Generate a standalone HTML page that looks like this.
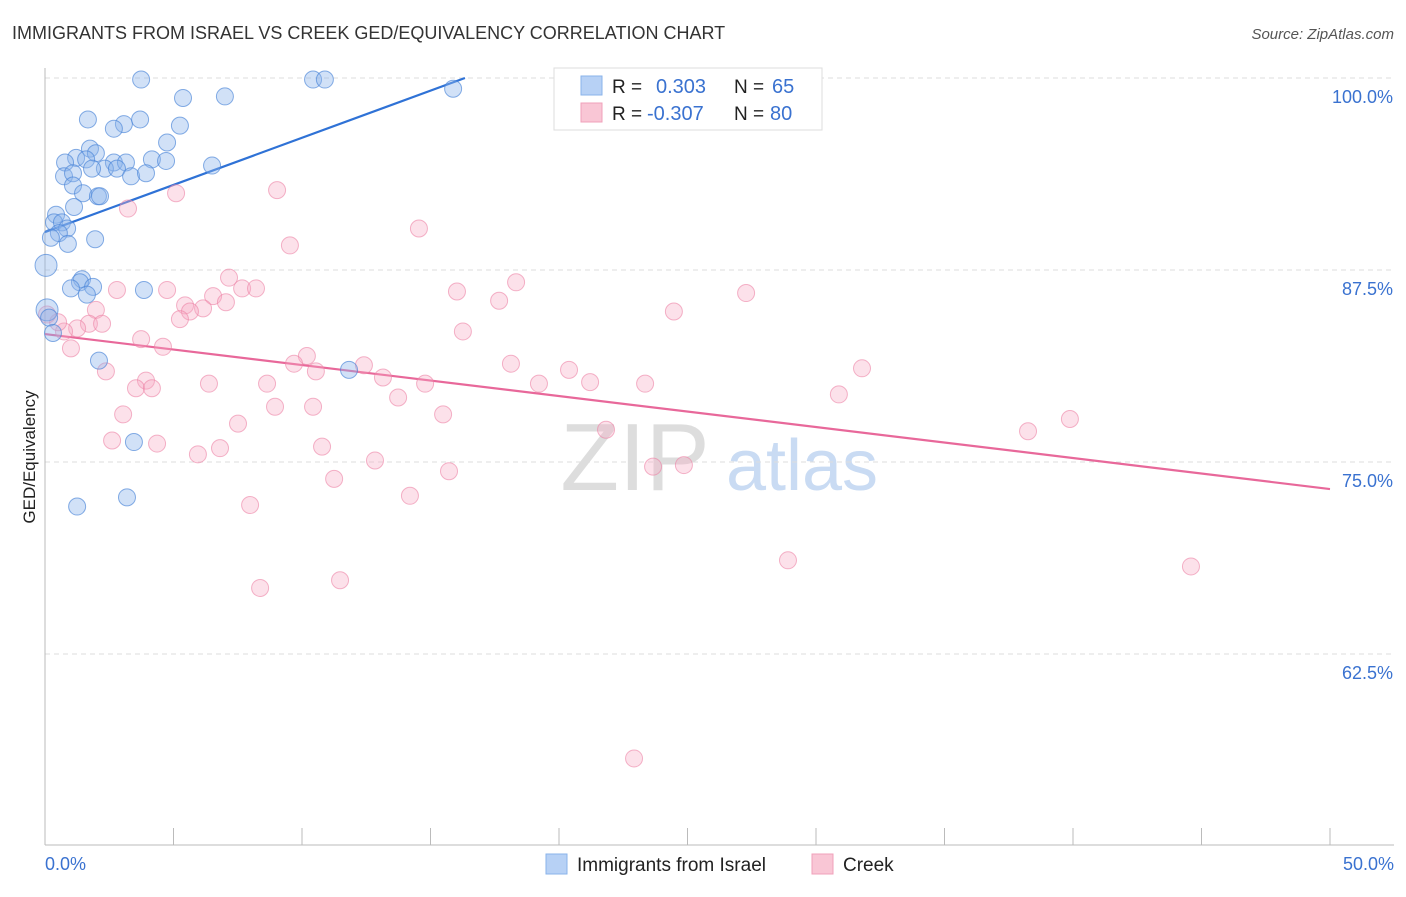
<!DOCTYPE html>
<html><head><meta charset="utf-8"><style>
body{margin:0;background:#fff;font-family:"Liberation Sans",sans-serif;}
svg text{font-family:"Liberation Sans",sans-serif;}
</style></head><body>
<svg id="chart" width="1406" height="892" xmlns="http://www.w3.org/2000/svg">
<text x="12" y="39" font-size="18" fill="#333">IMMIGRANTS FROM ISRAEL VS CREEK GED/EQUIVALENCY CORRELATION CHART</text>
<text x="1394" y="39" font-size="15" fill="#555" font-style="italic" text-anchor="end">Source: ZipAtlas.com</text>
<text x="35" y="457" font-size="17" fill="#222" transform="rotate(-90 35 457)" text-anchor="middle">GED/Equivalency</text>
<g><text x="635" y="490" font-size="96" fill="#ddd" font-family="Liberation Serif" text-anchor="middle">ZIP</text><text x="802" y="490" font-size="72" fill="#c9dbf3" text-anchor="middle">atlas</text></g>
<g id="grid"></g><g id="axes"></g><g id="lines"></g><g id="pts"></g>
<g>
<rect x="554" y="68" width="268" height="62" fill="#fff" stroke="#ddd"/>
<rect x="581" y="76" width="21" height="19" fill="#b7d1f5" stroke="#8ab3ea"/>
<rect x="581" y="103" width="21" height="19" fill="#f9c6d5" stroke="#f0a0ba"/>
<text x="612" y="93" font-size="19" fill="#222">R = </text><text x="656" y="93" font-size="20" fill="#3a72d0">0.303</text>
<text x="734" y="93" font-size="19" fill="#222">N = </text><text x="772" y="93" font-size="20" fill="#3a72d0">65</text>
<text x="612" y="120" font-size="19" fill="#222">R = </text><text x="647" y="120" font-size="20" fill="#3a72d0">-0.307</text>
<text x="734" y="120" font-size="19" fill="#222">N = </text><text x="770" y="120" font-size="20" fill="#3a72d0">80</text>
</g>
<g>
<rect x="546" y="854" width="21" height="20" fill="#b7d1f5" stroke="#8ab3ea"/>
<text x="577" y="871" font-size="19" fill="#222">Immigrants from Israel</text>
<rect x="812" y="854" width="21" height="20" fill="#f9c6d5" stroke="#f0a0ba"/>
<text x="843" y="871" font-size="19" fill="#222">Creek</text>
</g>
</svg>
<script>
const blueX=[3.74,10.43,10.89,5.37,7.00,15.88,1.67,3.07,3.70,2.68,5.25,4.75,1.75,1.98,1.21,0.78,1.60,2.68,3.15,4.16,4.71,2.33,1.83,2.80,6.50,0.74,1.09,3.35,3.93,1.09,1.48,2.06,2.14,1.13,0.43,0.35,0.66,0.86,0.54,0.23,0.89,1.95,0.04,1.44,1.36,1.87,1.01,1.63,3.85,0.08,0.16,0.31,2.10,11.83,3.46,3.19,1.25];
const blueY=[99.9,99.9,99.9,98.7,98.8,99.3,97.3,97.0,97.3,96.7,96.9,95.8,95.4,95.1,94.8,94.5,94.7,94.5,94.5,94.7,94.6,94.1,94.1,94.1,94.3,93.6,93.8,93.6,93.8,93.0,92.5,92.3,92.3,91.6,91.1,90.6,90.6,90.2,89.9,89.6,89.2,89.5,87.8,86.9,86.7,86.4,86.3,85.9,86.2,84.9,84.4,83.4,81.6,81.0,76.3,72.7,72.1];
const pinkX=[22.26,9.03,5.10,3.23,14.55,9.53,7.16,18.33,16.03,2.80,4.75,7.67,8.21,6.54,7.04,5.45,6.15,17.67,5.64,5.25,1.98,1.71,2.22,1.25,0.74,0.51,0.08,16.26,24.47,27.28,3.74,4.59,1.01,10.19,9.69,10.54,12.41,18.13,2.37,20.39,31.79,3.93,6.38,8.64,13.15,14.79,19.22,21.21,23.35,3.54,4.16,13.74,30.89,8.95,10.43,3.04,15.49,7.51,21.83,38.25,39.88,2.61,4.36,10.78,5.95,6.81,12.84,15.72,23.66,24.86,11.25,14.20,7.98,28.91,44.59,8.37,11.48,22.92];
const pinkY=[99.9,92.7,92.5,91.5,90.2,89.1,87.0,86.7,86.1,86.2,86.2,86.3,86.3,85.8,85.4,85.2,85.0,85.5,84.8,84.3,84.9,84.0,84.0,83.7,83.5,84.1,84.6,83.5,84.8,86.0,83.0,82.5,82.4,81.9,81.4,80.9,81.3,81.4,80.9,81.0,81.1,80.3,80.1,80.1,80.5,80.1,80.1,80.2,80.1,79.8,79.8,79.2,79.4,78.6,78.6,78.1,78.1,77.5,77.1,77.0,77.8,76.4,76.2,76.0,75.5,75.9,75.1,74.4,74.7,74.8,73.9,72.8,72.2,68.6,68.2,66.8,67.3,55.7];
const blueLine=[0,89.97,16.34,100];
const pinkLine=[0,83.33,50,73.24];
const yTicks=[100,87.5,75,62.5];
const yTickLabels=["100.0%","87.5%","75.0%","62.5%"];
const xTicks=[0,5,10,15,20,25,30,35,40,45,50];
const NS="http://www.w3.org/2000/svg";
const sx=v=>45+v*25.7, sy=v=>78+(100-v)*15.36;
function mk(p,t,a){const e=document.createElementNS(NS,t);for(const k in a)e.setAttribute(k,a[k]);document.getElementById(p).appendChild(e);return e;}
yTicks.forEach((t,i)=>{
 const g=mk('grid','line',{x1:45,x2:1394,y1:sy(t),y2:sy(t),stroke:'#ddd','stroke-dasharray':'5,4'});
 
 
 const l=mk('grid','text',{x:1393,y:sy(t)+25,'font-size':18,fill:'#3a72d0','text-anchor':'end'});
 l.textContent=yTickLabels[i];
 
 
});
const ax=mk('axes','line',{x1:45,x2:45,y1:68,y2:845,stroke:'#bbb'});


const bx=mk('axes','line',{x1:45,x2:1394,y1:845,y2:845,stroke:'#bbb'});


xTicks.forEach(t=>{
 const k=mk('axes','line',{x1:sx(t),x2:sx(t),y1:828,y2:845,stroke:'#bbb'});
 
 
});
const xl0=mk('axes','text',{x:45,y:870,'font-size':18,fill:'#3a72d0'});xl0.textContent='0.0%';


const xl1=mk('axes','text',{x:1394,y:870,'font-size':18,fill:'#3a72d0','text-anchor':'end'});xl1.textContent='50.0%';


pinkX.forEach((x,i)=>{
 const c=mk('pts','circle',{cx:sx(x),cy:sy(pinkY[i]),r:8.5,fill:'rgba(246,170,195,0.35)',stroke:'rgba(236,130,165,0.6)','stroke-width':1});
 
 
});
blueX.forEach((x,i)=>{
 const big=(x<0.1&&blueY[i]>84);
 const c=mk('pts','circle',{cx:sx(x),cy:sy(blueY[i]),r:big?11:8.5,fill:'rgba(140,180,235,0.4)',stroke:'rgba(70,130,215,0.65)','stroke-width':1});
 
 
});
const l1=mk('lines','line',{x1:sx(blueLine[0]),y1:sy(blueLine[1]),x2:sx(blueLine[2]),y2:sy(blueLine[3]),stroke:'#2f72d6','stroke-width':2.2});


const l2=mk('lines','line',{x1:sx(pinkLine[0]),y1:sy(pinkLine[1]),x2:sx(pinkLine[2]),y2:sy(pinkLine[3]),stroke:'#e8689a','stroke-width':2.2});


</script>
</body></html>
